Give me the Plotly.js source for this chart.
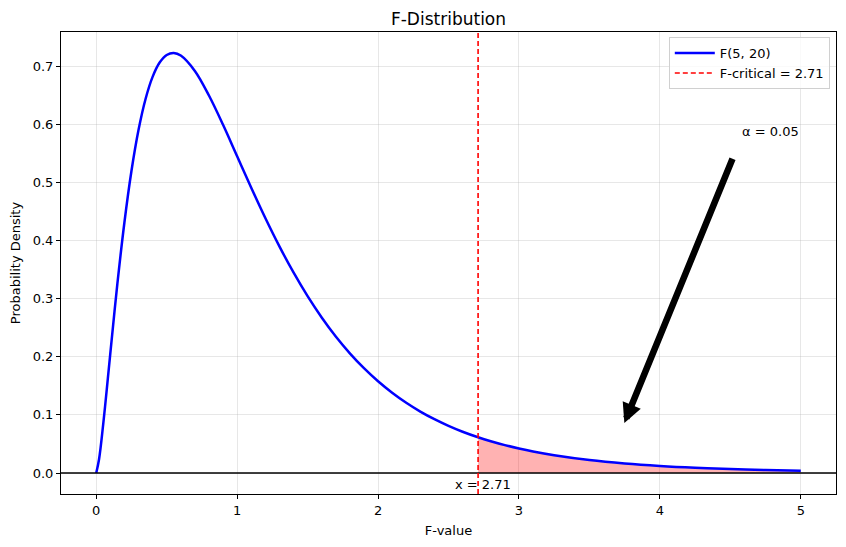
<!DOCTYPE html>
<html>
<head>
<meta charset="utf-8">
<script src="https://cdn.plot.ly/plotly-3.0.1.min.js"></script>
<style>html,body{margin:0;padding:0;background:#fff;}#chart{width:846px;height:547px;}</style>
</head>
<body>
<div id="chart"></div>
<script>
// F(5, 20) density
const fValues = [0, 0.02, 0.05, 0.075, 0.1, 0.15, 0.2, 0.25, 0.3, 0.35, 0.4, 0.45, 0.5, 0.55, 0.6, 0.7, 0.8, 0.9, 1.0, 1.1, 1.2, 1.3, 1.4, 1.5, 1.6, 1.7, 1.8, 1.9, 2.0, 2.1, 2.2, 2.3, 2.4, 2.5, 2.6, 2.71, 2.8, 2.9, 3.0, 3.1, 3.25, 3.5, 3.75, 4.0, 4.25, 4.5, 4.75, 5.0];
const density = [0, 0.0236, 0.0849, 0.1444, 0.2059, 0.3251, 0.4309, 0.5194, 0.5899, 0.6433, 0.6813, 0.7059, 0.7190, 0.7225, 0.7181, 0.6916, 0.6493, 0.5989, 0.5448, 0.4908, 0.4386, 0.3898, 0.3449, 0.3041, 0.2675, 0.2348, 0.2059, 0.1803, 0.1578, 0.1381, 0.1208, 0.1057, 0.0926, 0.0811, 0.0710, 0.0615, 0.0547, 0.0480, 0.0422, 0.0371, 0.0307, 0.0224, 0.0165, 0.0122, 0.0091, 0.0069, 0.0052, 0.0039];
const fCritical = 2.71;
const alpha = 0.05;
const seriesName = 'F(5, 20)';

const tailX = [], tailY = [];
fValues.forEach((x, i) => { if (x >= fCritical) { tailX.push(x); tailY.push(density[i]); } });

const font = {family: 'DejaVu Sans', size: 13, color: '#000'};

const traces = [
  {x: tailX, y: tailY, type: 'scatter', mode: 'lines', fill: 'tozeroy',
   fillcolor: 'rgba(255,0,0,0.3)', line: {width: 0, shape: 'spline'}, showlegend: false, hoverinfo: 'skip'},
  {x: fValues, y: density, type: 'scatter', mode: 'lines', name: seriesName,
   line: {color: '#0000ff', width: 2.5, shape: 'spline', smoothing: 1}}
];

const layout = {
  width: 846, height: 547,
  margin: {l: 61, r: 10, t: 32, b: 53},
  paper_bgcolor: '#fff', plot_bgcolor: '#fff',
  font: font,
  title: {text: 'F-Distribution', font: {family: 'DejaVu Sans', size: 17, color: '#000'}, x: 0.5, xref: 'paper', y: 1, yref: 'paper', yanchor: 'bottom', pad: {b: 7}},
  xaxis: {
    range: [-0.25, 5.25], tickvals: [0, 1, 2, 3, 4, 5], ticktext: ['0','1','2','3','4','5'],
    showgrid: true, gridcolor: 'rgba(176,176,176,0.3)', gridwidth: 1, zeroline: false,
    showline: true, linecolor: '#000', linewidth: 1, mirror: true,
    ticks: 'outside', ticklen: 4, tickcolor: '#000', tickfont: font,
    title: {text: 'F-value', font: font, standoff: 9}
  },
  yaxis: {
    range: [-0.0361, 0.7585], tickvals: [0, 0.1, 0.2, 0.3, 0.4, 0.5, 0.6, 0.7], tickformat: '.1f',
    showgrid: true, gridcolor: 'rgba(176,176,176,0.3)', gridwidth: 1, zeroline: false,
    showline: true, linecolor: '#000', linewidth: 1, mirror: true,
    ticks: 'outside', ticklen: 4, tickcolor: '#000', tickfont: font,
    title: {text: 'Probability Density', font: font, standoff: 9}
  },
  legend: {x: 0.992, xanchor: 'right', y: 0.989, yanchor: 'top', bgcolor: 'rgba(255,255,255,0.8)',
    bordercolor: '#d0d0d0', borderwidth: 1, font: font, tracegroupgap: 0, itemwidth: 40},
  shapes: [
    {type: 'line', xref: 'paper', x0: 0, x1: 1, yref: 'y', y0: 0, y1: 0, line: {color: '#000', width: 1.6}},
    {type: 'line', xref: 'x', x0: fCritical, x1: fCritical, yref: 'paper', y0: 0, y1: 1,
     line: {color: '#ff0000', width: 1.6, dash: '5px,3px'}, showlegend: true, name: 'F-critical = ' + fCritical.toFixed(2)}
  ],
  annotations: [
    {x: 3.748, y: 0.086, xref: 'x', yref: 'y', ax: 4.52, ay: 0.543, axref: 'x', ayref: 'y',
     text: '', showarrow: true, arrowhead: 2, arrowsize: 0.6, arrowwidth: 6.5, arrowcolor: '#000', standoff: 0},
    {x: 4.57, y: 0.578, xref: 'x', yref: 'y', text: 'α = ' + alpha.toFixed(2), showarrow: false,
     xanchor: 'left', yanchor: 'bottom', yshift: -4, font: font},
    {x: fCritical, y: -0.019, xref: 'x', yref: 'y', text: 'x = ' + fCritical.toFixed(2), showarrow: false,
     xanchor: 'center', yanchor: 'middle', xshift: 5, font: font}
  ]
};

Plotly.newPlot('chart', traces, layout, {displayModeBar: false, staticPlot: true});
</script>
</body>
</html>
